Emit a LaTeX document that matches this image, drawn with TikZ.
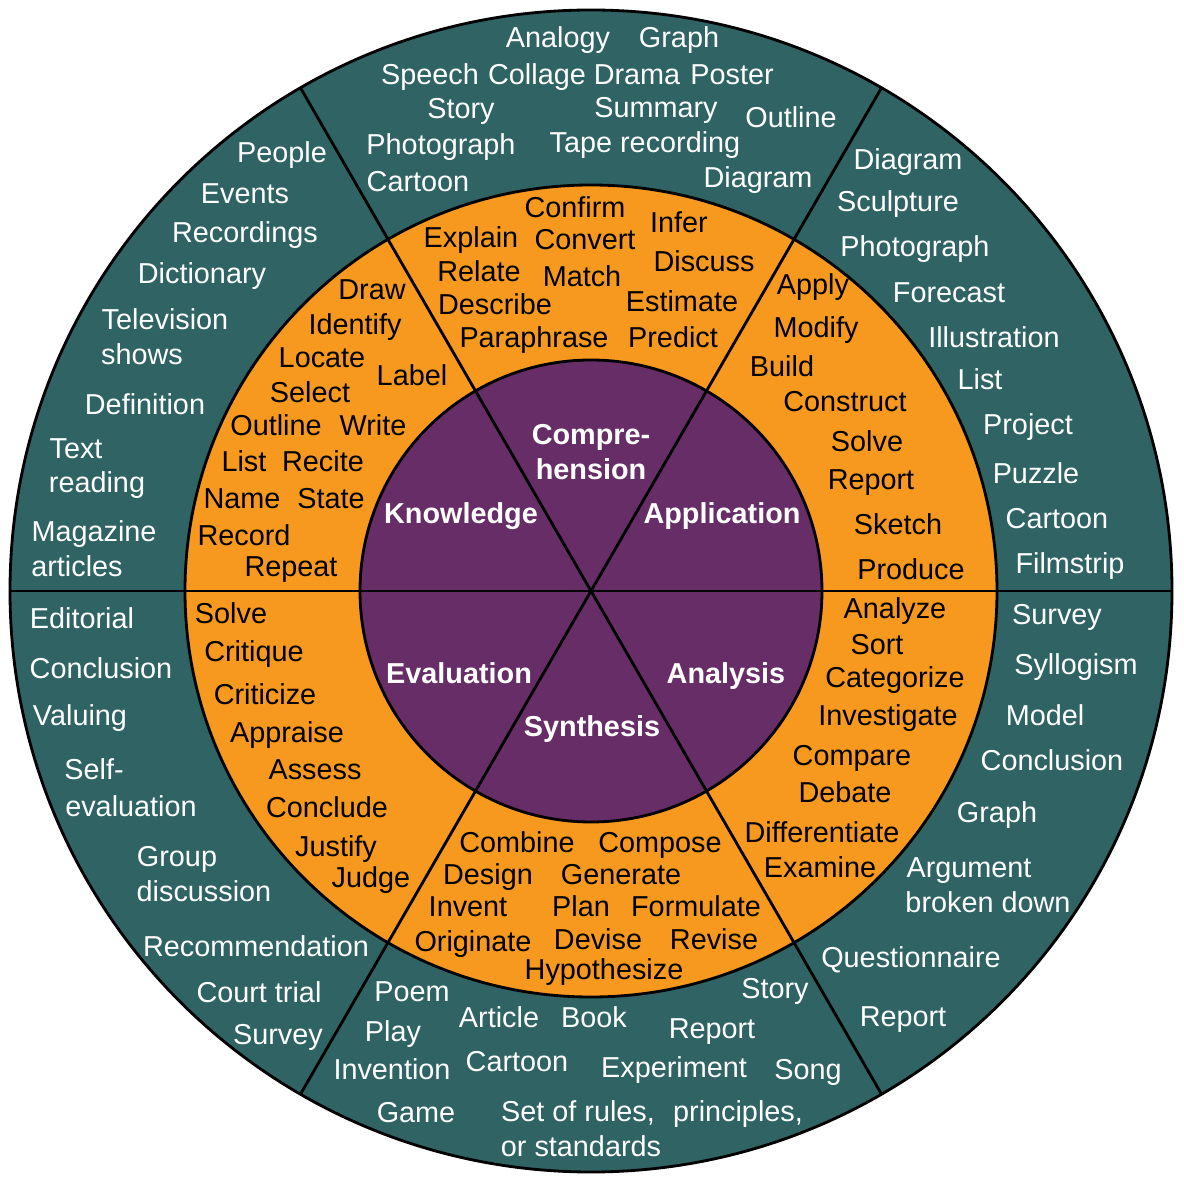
\documentclass[tikz,border=0pt]{standalone}
\usepackage{fontspec}
\setmainfont{Liberation Sans}
\usepackage{tikz}

\definecolor{tealring}{RGB}{47,99,100}
\definecolor{orangering}{RGB}{247,153,30}
\definecolor{purplehub}{RGB}{102,45,102}
\newcommand\wordfont{\fontsize{8.2pt}{10pt}\selectfont}

\begin{document}
\begin{tikzpicture}[line width = 0.8pt,
                      outer/.style = {font = \wordfont, text = white, anchor = base, inner sep = 0pt},
                      mid/.style = {font = \wordfont, text = black, anchor = base, inner sep = 0pt},
                      hub/.style = {font = \wordfont\bfseries, text = white, anchor = base, inner sep = 0pt}]
    \useasboundingbox (-5.91, -5.93) rectangle (5.93, 5.91);

    \filldraw [fill = tealring] (0, 0) circle (5.81);
    \filldraw [fill = orangering] (0, 0) circle (4.06);
    \filldraw [fill = purplehub] (0, 0) circle (2.31);
    \draw (180:5.81) -- (0:5.81);
    \draw (240:5.81) -- (60:5.81);
    \draw (120:5.81) -- (300:5.81);

    \node [hub] (comp1) at (0.00, 1.46) {Compre-};
    \node [hub] (comp2) at (0.00, 1.11) {hension};
    \node [hub] (know) at (-1.30, 0.67) {Knowledge};
    \node [hub] (appl) at (1.31, 0.67) {Application};
    \node [hub] (eval) at (-1.32, -0.93) {Evaluation};
    \node [hub] (anal) at (1.35, -0.93) {Analysis};
    \node [hub] (synt) at (0.01, -1.46) {Synthesis};

    \node [mid] (draw) at (-2.19, 2.91) {Draw};
    \node [mid] (identify) at (-2.36, 2.56) {Identify};
    \node [mid] (locate) at (-2.69, 2.23) {Locate};
    \node [mid] (label) at (-1.79, 2.05) {Label};
    \node [mid] (select) at (-2.81, 1.88) {Select};
    \node [mid] (outlinek) at (-3.15, 1.55) {Outline};
    \node [mid] (write) at (-2.18, 1.55) {Write};
    \node [mid] (listk) at (-3.47, 1.19) {List};
    \node [mid] (recite) at (-2.68, 1.19) {Recite};
    \node [mid] (name) at (-3.49, 0.82) {Name};
    \node [mid] (state) at (-2.60, 0.82) {State};
    \node [mid] (record) at (-3.47, 0.45) {Record};
    \node [mid] (repeat) at (-3.00, 0.14) {Repeat};

    \node [mid] (solvee) at (-3.60, -0.33) {Solve};
    \node [mid] (critique) at (-3.37, -0.71) {Critique};
    \node [mid] (criticize) at (-3.26, -1.13) {Criticize};
    \node [mid] (appraise) at (-3.04, -1.51) {Appraise};
    \node [mid] (assess) at (-2.76, -1.88) {Assess};
    \node [mid] (conclude) at (-2.64, -2.26) {Conclude};
    \node [mid] (justify) at (-2.55, -2.65) {Justify};
    \node [mid] (judge) at (-2.20, -2.96) {Judge};

    \node [mid] (confirm) at (-0.16, 3.73) {Confirm};
    \node [mid] (infer) at (0.88, 3.58) {Infer};
    \node [mid] (explain) at (-1.20, 3.43) {Explain};
    \node [mid] (convert) at (-0.06, 3.41) {Convert};
    \node [mid] (discuss) at (1.13, 3.19) {Discuss};
    \node [mid] (relate) at (-1.12, 3.09) {Relate};
    \node [mid] (match) at (-0.09, 3.04) {Match};
    \node [mid] (describe) at (-0.96, 2.76) {Describe};
    \node [mid] (estimate) at (0.91, 2.79) {Estimate};
    \node [mid] (paraphrase) at (-0.57, 2.43) {Paraphrase};
    \node [mid] (predict) at (0.82, 2.43) {Predict};

    \node [mid] (apply) at (2.22, 2.96) {Apply};
    \node [mid] (modify) at (2.25, 2.53) {Modify};
    \node [mid] (build) at (1.91, 2.14) {Build};
    \node [mid] (construct) at (2.54, 1.79) {Construct};
    \node [mid] (solvea) at (2.76, 1.39) {Solve};
    \node [mid] (reporta) at (2.80, 1.01) {Report};
    \node [mid] (sketch) at (3.07, 0.56) {Sketch};
    \node [mid] (produce) at (3.20, 0.11) {Produce};

    \node [mid] (analyze) at (3.04, -0.28) {Analyze};
    \node [mid] (sort) at (2.86, -0.64) {Sort};
    \node [mid] (categorize) at (3.04, -0.96) {Categorize};
    \node [mid] (investigate) at (2.97, -1.34) {Investigate};
    \node [mid] (compare) at (2.61, -1.74) {Compare};
    \node [mid] (debate) at (2.54, -2.11) {Debate};
    \node [mid] (differentiate) at (2.31, -2.51) {Differentiate};
    \node [mid] (examine) at (2.29, -2.86) {Examine};

    \node [mid] (combine) at (-0.74, -2.61) {Combine};
    \node [mid] (compose) at (0.69, -2.61) {Compose};
    \node [mid] (design) at (-1.03, -2.93) {Design};
    \node [mid] (generate) at (0.30, -2.93) {Generate};
    \node [mid] (invent) at (-1.23, -3.25) {Invent};
    \node [mid] (plan) at (-0.10, -3.25) {Plan};
    \node [mid] (formulate) at (1.05, -3.25) {Formulate};
    \node [mid] (originate) at (-1.18, -3.60) {Originate};
    \node [mid] (devise) at (0.07, -3.58) {Devise};
    \node [mid] (revise) at (1.23, -3.58) {Revise};
    \node [mid] (hypothesize) at (0.13, -3.88) {Hypothesize};

    \node [outer] (people) at (-3.09, 4.28) {People};
    \node [outer] (events) at (-3.46, 3.87) {Events};
    \node [outer] (recordings) at (-3.46, 3.48) {Recordings};
    \node [outer] (dictionary) at (-3.89, 3.07) {Dictionary};
    \node [outer] (television) at (-4.26, 2.61) {Television};
    \node [outer] (shows) at (-4.49, 2.26) {shows};
    \node [outer] (definition) at (-4.46, 1.76) {Definition};
    \node [outer] (text) at (-5.15, 1.32) {Text};
    \node [outer] (reading) at (-4.94, 0.98) {reading};
    \node [outer] (magazine) at (-4.97, 0.49) {Magazine};
    \node [outer] (articles) at (-5.14, 0.14) {articles};

    \node [outer] (editorial) at (-5.09, -0.38) {Editorial};
    \node [outer] (conclusione) at (-4.90, -0.87) {Conclusion};
    \node [outer] (valuing) at (-5.11, -1.34) {Valuing};
    \node [outer] (self) at (-4.97, -1.89) {Self-};
    \node [outer] (evaluation) at (-4.60, -2.25) {evaluation};
    \node [outer] (group) at (-4.14, -2.75) {Group};
    \node [outer] (discussion) at (-3.87, -3.10) {discussion};
    \node [outer] (recommendation) at (-3.35, -3.65) {Recommendation};
    \node [outer] (courttrial) at (-3.32, -4.11) {Court trial};
    \node [outer] (surveye) at (-3.13, -4.53) {Survey};

    \node [outer] (analogy) at (-0.33, 5.43) {Analogy};
    \node [outer] (graphc) at (0.88, 5.43) {Graph};
    \node [outer] (speech) at (-1.61, 5.06) {Speech};
    \node [outer] (collage) at (-0.54, 5.06) {Collage};
    \node [outer] (drama) at (0.46, 5.06) {Drama};
    \node [outer] (poster) at (1.41, 5.06) {Poster};
    \node [outer] (storyc) at (-1.30, 4.72) {Story};
    \node [outer] (summary) at (0.65, 4.73) {Summary};
    \node [outer] (outlinec) at (2.00, 4.63) {Outline};
    \node [outer] (photoc) at (-1.50, 4.36) {Photograph};
    \node [outer] (tape) at (0.54, 4.38) {Tape recording};
    \node [outer] (cartoonc) at (-1.73, 3.99) {Cartoon};
    \node [outer] (diagramc) at (1.67, 4.03) {Diagram};

    \node [outer] (diagrama) at (3.17, 4.21) {Diagram};
    \node [outer] (sculpture) at (3.07, 3.79) {Sculpture};
    \node [outer] (photoa) at (3.24, 3.34) {Photograph};
    \node [outer] (forecast) at (3.58, 2.88) {Forecast};
    \node [outer] (illustration) at (4.03, 2.43) {Illustration};
    \node [outer] (lista) at (3.89, 2.01) {List};
    \node [outer] (project) at (4.37, 1.56) {Project};
    \node [outer] (puzzle) at (4.45, 1.07) {Puzzle};
    \node [outer] (cartoona) at (4.66, 0.62) {Cartoon};
    \node [outer] (filmstrip) at (4.79, 0.17) {Filmstrip};

    \node [outer] (surveyn) at (4.66, -0.34) {Survey};
    \node [outer] (syllogism) at (4.85, -0.83) {Syllogism};
    \node [outer] (model) at (4.54, -1.34) {Model};
    \node [outer] (conclusionn) at (4.61, -1.79) {Conclusion};
    \node [outer] (graphn) at (4.06, -2.31) {Graph};
    \node [outer] (argument) at (3.78, -2.86) {Argument};
    \node [outer] (broken) at (3.97, -3.21) {broken down};
    \node [outer] (questionnaire) at (3.20, -3.76) {Questionnaire};
    \node [outer] (reportn) at (3.12, -4.35) {Report};

    \node [outer] (poem) at (-1.79, -4.10) {Poem};
    \node [outer] (play) at (-1.98, -4.50) {Play};
    \node [outer] (invention) at (-1.99, -4.88) {Invention};
    \node [outer] (game) at (-1.75, -5.31) {Game};
    \node [outer] (article) at (-0.92, -4.36) {Article};
    \node [outer] (book) at (0.03, -4.36) {Book};
    \node [outer] (reports) at (1.21, -4.47) {Report};
    \node [outer] (storys) at (1.84, -4.07) {Story};
    \node [outer] (cartoons) at (-0.74, -4.80) {Cartoon};
    \node [outer] (experiment) at (0.83, -4.86) {Experiment};
    \node [outer] (song) at (2.17, -4.88) {Song};
    \node [outer] (rules) at (-0.13, -5.30) {Set of rules,};
    \node [outer] (principles) at (1.47, -5.30) {principles,};
    \node [outer] (standards) at (-0.10, -5.65) {or standards};
    \end{tikzpicture}
\end{document}
